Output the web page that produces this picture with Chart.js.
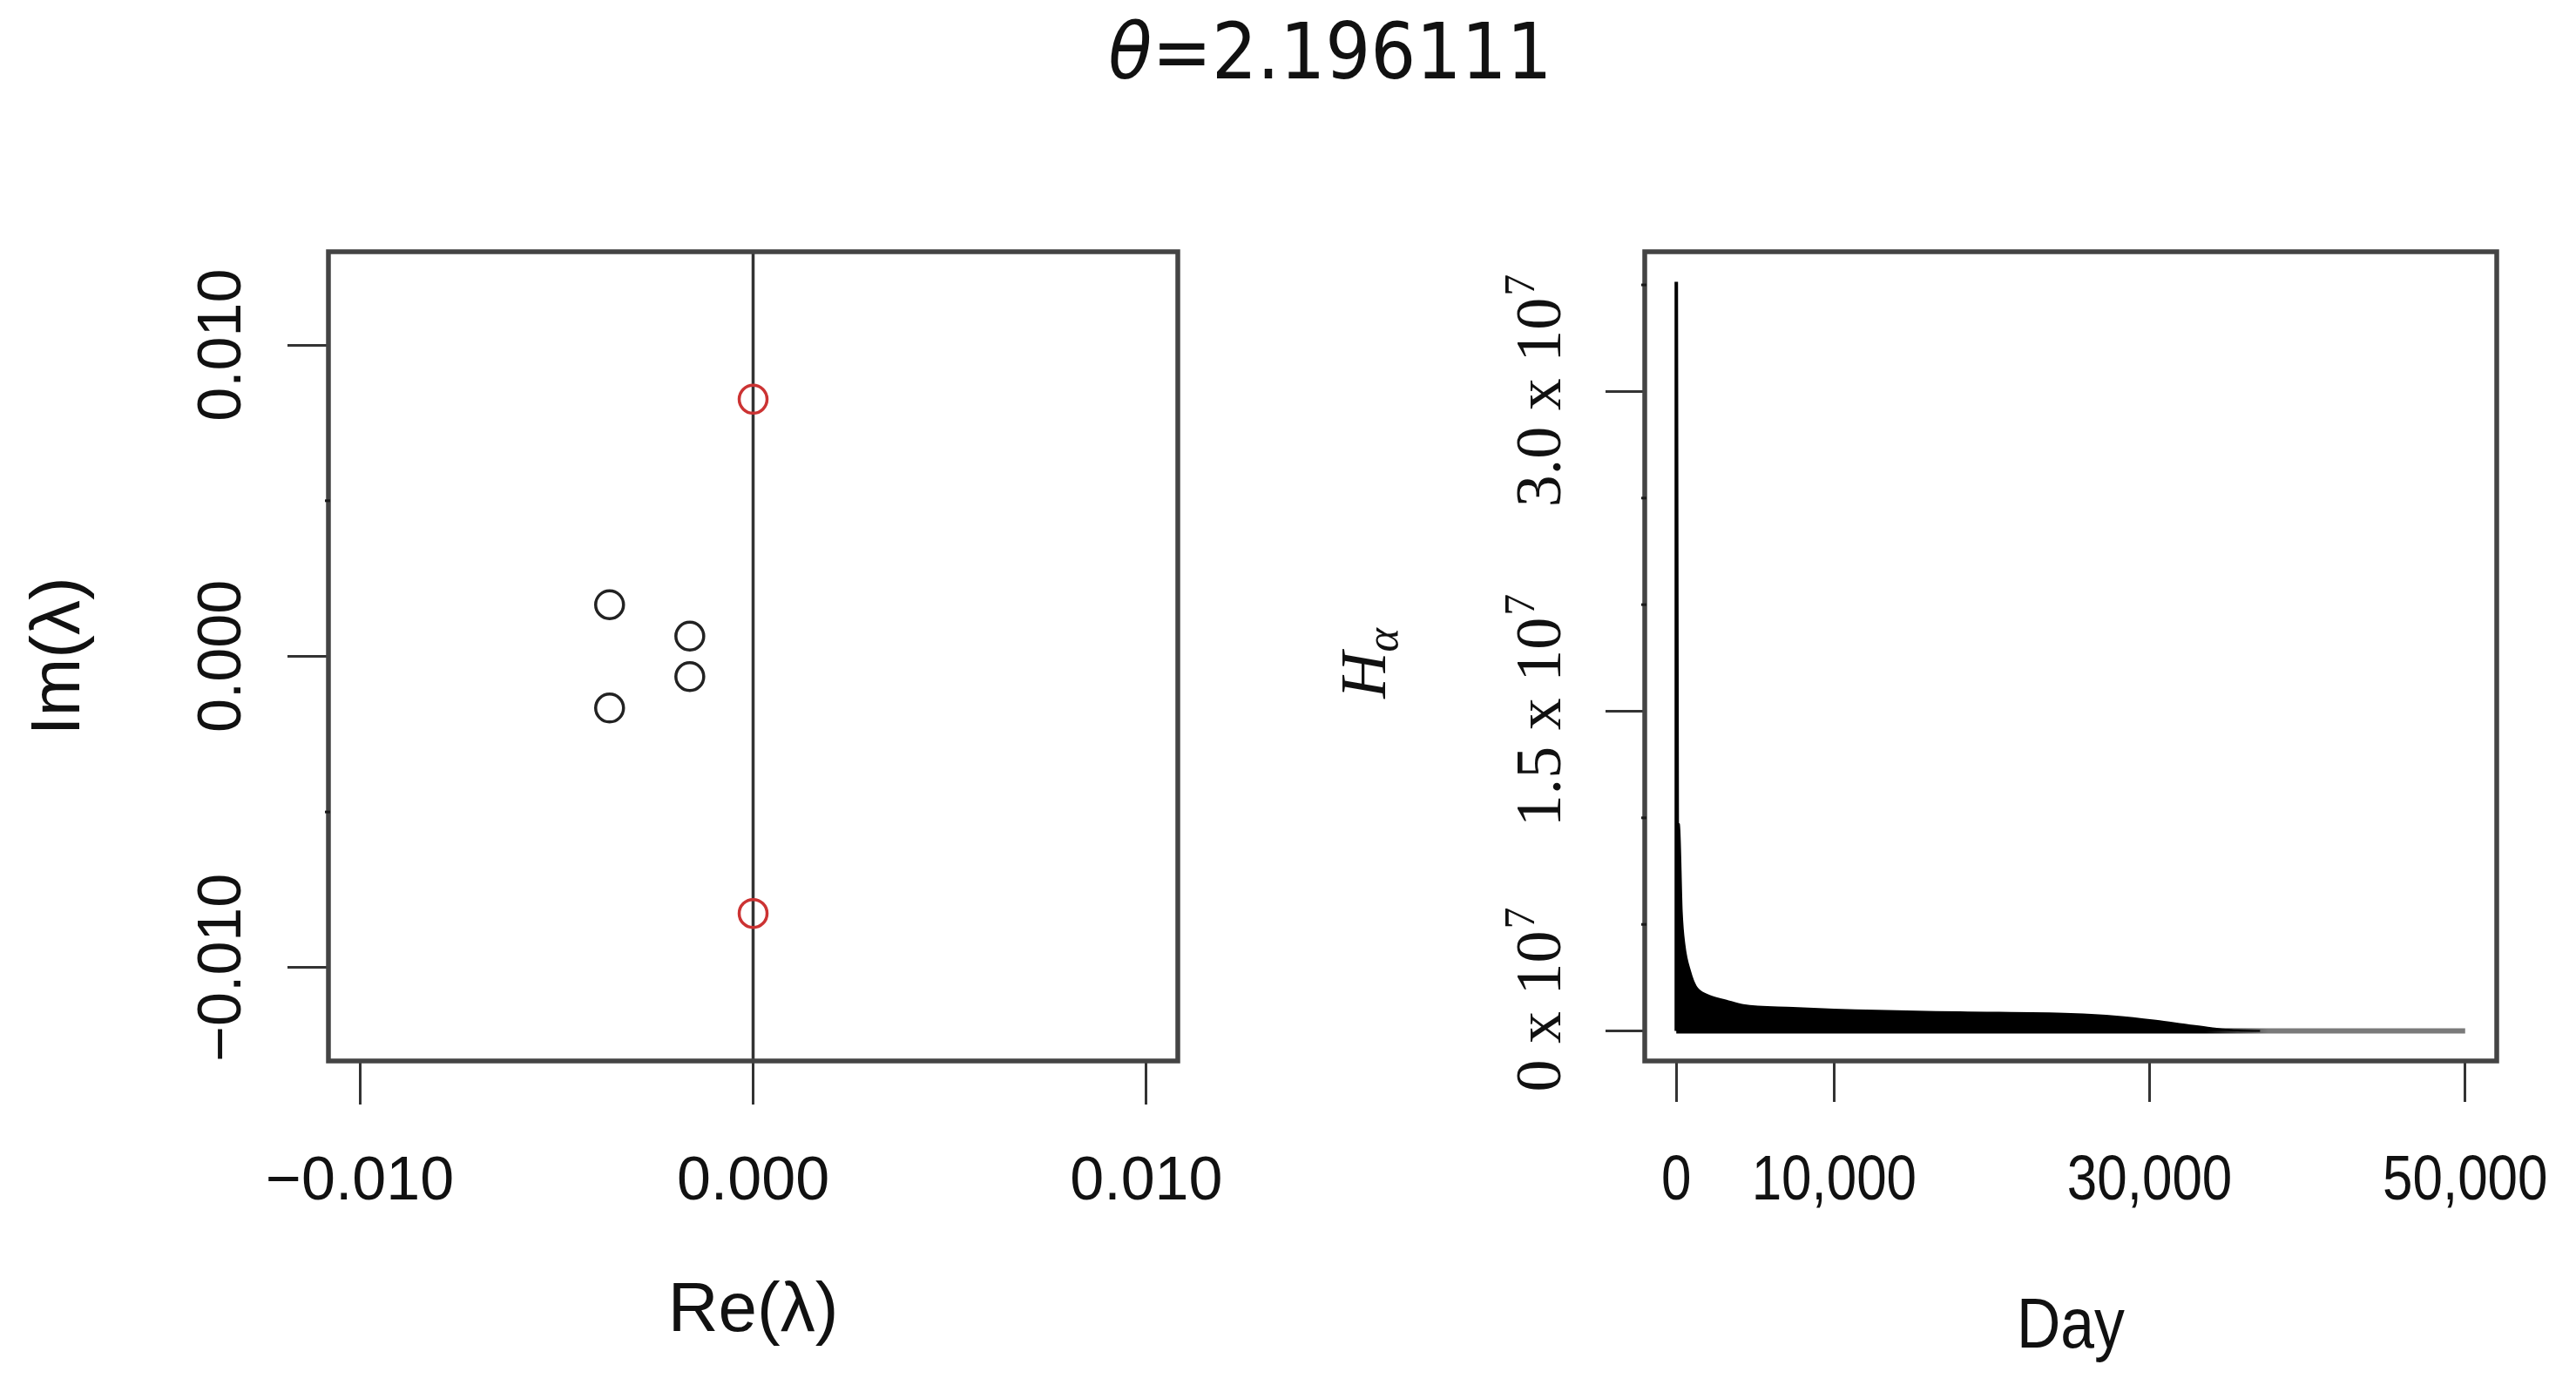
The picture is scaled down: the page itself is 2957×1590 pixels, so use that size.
<!DOCTYPE html>
<html>
<head>
<meta charset="utf-8">
<script src="https://cdn.jsdelivr.net/npm/chart.js@4.4.1/dist/chart.umd.min.js"></script>
<style>
  html, body { margin: 0; padding: 0; background: #fff; }
  #wrap { position: relative; width: 2957px; height: 1590px; }
  canvas { position: absolute; left: 0; top: 0; }
</style>
</head>
<body>
<div id="wrap">
  <canvas id="eig" width="2957" height="1590"></canvas>
  <canvas id="ha" width="2957" height="1590"></canvas>
</div>
<script>
const titleSymbol = '\u03b8';
const titleValue = '=2.196111';

// left panel: eigenvalues
const reLambda = [0, 0, -0.00365, -0.00365, -0.00161, -0.00161];
const imLambda = [0.00826, -0.00826, 0.00166, -0.00166, 0.00065, -0.00065];
const eigColors = ['#cc3333', '#cc3333', '#222222', '#222222', '#222222', '#222222'];
const reTicks = [-0.01, 0, 0.01];
const reTickLabels = ['\u22120.010', '0.000', '0.010'];
const imTicks = [-0.01, 0, 0.01];
const imTickLabels = ['\u22120.010', '0.000', '0.010'];
const imMinor = [-0.005, 0.005];
const reRange = [-0.0108, 0.0108];
const imRange = [-0.013, 0.013];
const vLineAt = 0;

// right panel: H_alpha against day
const envDays = [0, 180, 350, 530, 880, 1240, 1940, 3180, 4240, 7400, 12700, 18000, 25000, 27900, 30400, 32500, 33900, 35600, 37000];
const envH = [9750000, 9700000, 5600000, 4000000, 2800000, 2100000, 1700000, 1430000, 1220000, 1090000, 950000, 880000, 800000, 680000, 480000, 270000, 140000, 20000, 0];
const spikeDays = [0, 0, 60];
const spikeH = [0, 35150000, 9700000];
const tailDays = [0, 50000];
const tailH = [0, 0];
const fadeDays = [33500, 37500];
const dayTicks = [0, 10000, 30000, 50000];
const dayTickLabels = ['0', '10,000', '30,000', '50,000'];
const hTicks = [0, 15000000, 30000000];
const hTickLabels = ['0', '1.5', '3.0'];
const hMinor = [5000000, 10000000, 20000000, 25000000, 35000000];
const dayRange = [-2000, 52000];
const hRange = [-1406000, 36556000];

const INK = '#111111';
const BOX = '#444444';
const SANS = '"Liberation Sans", Arial, sans-serif';
const SERIF = '"Liberation Serif", "Times New Roman", serif';

function zip(xs, ys) {
  return xs.map((x, i) => ({ x: x, y: ys[i] }));
}

function setTicks(values) {
  return axis => { axis.ticks = values.map(v => ({ value: v })); };
}

function upText(ctx, text, x, y, font) {
  ctx.save();
  ctx.translate(x, y);
  ctx.rotate(-Math.PI / 2);
  ctx.font = font;
  ctx.textAlign = 'center';
  ctx.textBaseline = 'alphabetic';
  ctx.fillText(text, 0, 0);
  ctx.restore();
}

function narrowText(ctx, text, x, y, font, sx) {
  ctx.save();
  ctx.translate(x, y);
  ctx.scale(sx, 1);
  ctx.font = font;
  ctx.textAlign = 'center';
  ctx.textBaseline = 'alphabetic';
  ctx.fillText(text, 0, 0);
  ctx.restore();
}

function drawBox(chart) {
  const a = chart.chartArea;
  const ctx = chart.ctx;
  ctx.save();
  ctx.strokeStyle = BOX;
  ctx.lineWidth = 5.5;
  ctx.strokeRect(a.left, a.top, a.right - a.left, a.bottom - a.top);
  ctx.restore();
}

// R left these ticks almost hidden on the box edge
function drawMinor(chart, values) {
  const a = chart.chartArea;
  const ys = chart.scales.y;
  const ctx = chart.ctx;
  ctx.save();
  ctx.strokeStyle = '#1a1a1a';
  ctx.lineWidth = 3;
  values.forEach(v => {
    const py = ys.getPixelForValue(v);
    ctx.beginPath();
    ctx.moveTo(a.left - 4, py);
    ctx.lineTo(a.left + 2, py);
    ctx.stroke();
  });
  ctx.restore();
}

function axisOpts(range, ticks, pos, size, tickLen) {
  return {
    type: 'linear',
    position: pos,
    min: range[0],
    max: range[1],
    afterBuildTicks: setTicks(ticks),
    afterFit: s => { if (pos === 'left') s.width = size; else s.height = size; },
    ticks: { display: false },
    grid: { drawOnChartArea: false, drawTicks: true, tickLength: tickLen, lineWidth: 3, color: '#333' },
    border: { display: false }
  };
}

const eigPlugin = {
  id: 'eigDecor',
  beforeDatasetsDraw(chart) {
    const a = chart.chartArea;
    const px = chart.scales.x.getPixelForValue(vLineAt);
    const ctx = chart.ctx;
    ctx.save();
    ctx.strokeStyle = '#333';
    ctx.lineWidth = 3.5;
    ctx.beginPath();
    ctx.moveTo(px, a.top);
    ctx.lineTo(px, a.bottom);
    ctx.stroke();
    ctx.restore();
  },
  afterDraw(chart) {
    const a = chart.chartArea;
    const ctx = chart.ctx;
    const xs = chart.scales.x;
    const ys = chart.scales.y;
    drawBox(chart);
    drawMinor(chart, imMinor);
    ctx.save();
    ctx.fillStyle = INK;
    reTicks.forEach((v, i) => {
      narrowText(ctx, reTickLabels[i], xs.getPixelForValue(v), a.bottom + 159, '70px ' + SANS, 1);
    });
    imTicks.forEach((v, i) => {
      upText(ctx, imTickLabels[i], a.left - 101, ys.getPixelForValue(v), '70px ' + SANS);
    });
    narrowText(ctx, 'Re(\u03bb)', (a.left + a.right) / 2, a.bottom + 310, '80px ' + SANS, 1);
    upText(ctx, 'Im(\u03bb)', a.left - 286, (a.top + a.bottom) / 2, '80px ' + SANS);

    // overall title
    ctx.save();
    ctx.translate(1527, 90);
    ctx.scale(0.92, 1);
    const f1 = 'italic 89px "DejaVu Sans", sans-serif';
    const f2 = '89px "DejaVu Sans", sans-serif';
    ctx.font = f1;
    const w1 = ctx.measureText(titleSymbol).width;
    ctx.font = f2;
    const w2 = ctx.measureText(titleValue).width;
    const x0 = -(w1 + w2) / 2;
    ctx.textAlign = 'left';
    ctx.textBaseline = 'alphabetic';
    ctx.font = f1;
    ctx.fillText(titleSymbol, x0, 0);
    ctx.font = f2;
    ctx.fillText(titleValue, x0 + w1, 0);
    ctx.restore();
    ctx.restore();
  }
};

const hLabelShift = [-35, 0, 0];

const haPlugin = {
  id: 'haDecor',
  afterDraw(chart) {
    const a = chart.chartArea;
    const ctx = chart.ctx;
    const xs = chart.scales.x;
    const ys = chart.scales.y;
    drawBox(chart);
    drawMinor(chart, hMinor);
    ctx.save();
    ctx.fillStyle = INK;
    dayTicks.forEach((v, i) => {
      narrowText(ctx, dayTickLabels[i], xs.getPixelForValue(v), a.bottom + 159, '72px ' + SANS, 0.86);
    });
    narrowText(ctx, 'Day', (a.left + a.right) / 2, a.bottom + 329, '81px ' + SANS, 0.86);

    // y tick labels: "m x 10^7", rotated
    const main = '74px ' + SERIF;
    const sup = '50px ' + SERIF;
    hTicks.forEach((v, i) => {
      const txt = hTickLabels[i] + ' x 10';
      ctx.save();
      ctx.translate(a.left - 97, ys.getPixelForValue(v) + hLabelShift[i]);
      ctx.rotate(-Math.PI / 2);
      ctx.textAlign = 'left';
      ctx.textBaseline = 'alphabetic';
      ctx.font = main;
      const wm = ctx.measureText(txt).width;
      ctx.font = sup;
      const ws = ctx.measureText('7').width;
      const x0 = -(wm + ws) / 2;
      ctx.font = main;
      ctx.fillText(txt, x0, 0);
      ctx.font = sup;
      ctx.fillText('7', x0 + wm + 2, -30);
      ctx.restore();
    });

    // axis title H_alpha
    ctx.save();
    ctx.translate(a.left - 298, (a.top + a.bottom) / 2 + 8);
    ctx.rotate(-Math.PI / 2);
    ctx.textAlign = 'left';
    ctx.textBaseline = 'alphabetic';
    const fh = 'italic 74px ' + SERIF;
    const fa = 'italic 52px ' + SERIF;
    ctx.font = fh;
    const wh = ctx.measureText('H').width;
    ctx.font = fa;
    const wa = ctx.measureText('\u03b1').width;
    const hx = -(wh + wa) / 2;
    ctx.font = fh;
    ctx.fillText('H', hx, 0);
    ctx.font = fa;
    ctx.fillText('\u03b1', hx + wh, 14);
    ctx.restore();
    ctx.restore();
  }
};

function tailColor(c) {
  const chart = c.chart;
  if (!chart.chartArea) return '#7a7a7a';
  const xs = chart.scales.x;
  const x0 = xs.getPixelForValue(tailDays[0]);
  const x1 = xs.getPixelForValue(tailDays[tailDays.length - 1]);
  const g = chart.ctx.createLinearGradient(x0, 0, x1, 0);
  const span = tailDays[tailDays.length - 1] - tailDays[0];
  g.addColorStop(0, '#000');
  g.addColorStop((fadeDays[0] - tailDays[0]) / span, '#000');
  g.addColorStop((fadeDays[1] - tailDays[0]) / span, '#7a7a7a');
  g.addColorStop(1, '#7a7a7a');
  return g;
}

const common = {
  responsive: false,
  animation: false,
  events: [],
  devicePixelRatio: 1,
  plugins: { legend: { display: false }, tooltip: { enabled: false }, title: { display: false } }
};

new Chart(document.getElementById('eig'), {
  type: 'scatter',
  data: {
    datasets: [{
      data: zip(reLambda, imLambda),
      pointRadius: 16,
      pointBorderWidth: 3.5,
      pointBackgroundColor: 'rgba(0,0,0,0)',
      pointBorderColor: eigColors,
      showLine: false
    }]
  },
  options: Object.assign({}, common, {
    layout: { padding: { left: 257, top: 289, right: 2957 - 1352, bottom: 1590 - 1218 - 100 } },
    scales: {
      x: axisOpts(reRange, reTicks, 'bottom', 100, 50),
      y: axisOpts(imRange, imTicks, 'left', 120, 47)
    }
  }),
  plugins: [eigPlugin]
});

new Chart(document.getElementById('ha'), {
  type: 'scatter',
  data: {
    datasets: [
      {
        data: zip(tailDays, tailH),
        showLine: true,
        pointRadius: 0,
        borderWidth: 6,
        borderColor: tailColor,
        order: 3
      },
      {
        data: zip(envDays, envH),
        showLine: true,
        pointRadius: 0,
        borderWidth: 2,
        borderColor: '#000',
        backgroundColor: '#000',
        fill: 'origin',
        cubicInterpolationMode: 'monotone',
        order: 2
      },
      {
        data: zip(spikeDays, spikeH),
        showLine: true,
        pointRadius: 0,
        borderWidth: 4,
        borderColor: '#000',
        order: 1
      }
    ]
  },
  options: Object.assign({}, common, {
    layout: { padding: { left: 1888 - 120, top: 289, right: 2957 - 2866, bottom: 1590 - 1218 - 100 } },
    scales: {
      x: axisOpts(dayRange, dayTicks, 'bottom', 100, 47),
      y: axisOpts(hRange, hTicks, 'left', 120, 45)
    }
  }),
  plugins: [haPlugin]
});
</script>
</body>
</html>
